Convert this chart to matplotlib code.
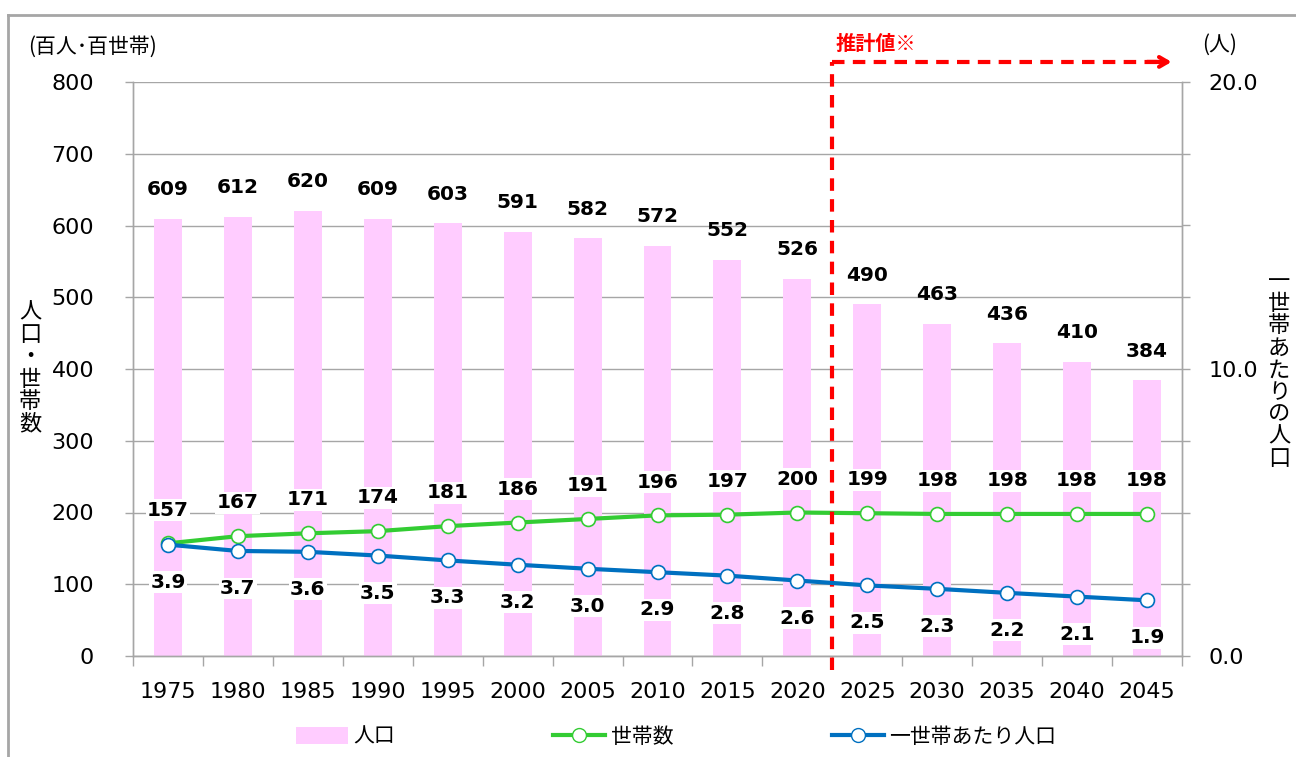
import numpy as np
import matplotlib
matplotlib.use("Agg")
import matplotlib.pyplot as plt
import matplotlib.transforms as mtransforms
from matplotlib.lines import Line2D
from matplotlib.patches import Patch

plt.rcParams['font.family'] = ['DejaVu Sans', 'Noto Sans CJK JP']
JP = ['Noto Sans CJK JP', 'DejaVu Sans']

# data
years = [1975, 1980, 1985, 1990, 1995, 2000, 2005, 2010, 2015, 2020,
         2025, 2030, 2035, 2040, 2045]
population = [609, 612, 620, 609, 603, 591, 582, 572, 552, 526, 490, 463, 436, 410, 384]
households = [157, 167, 171, 174, 181, 186, 191, 196, 197, 200, 199, 198, 198, 198, 198]
per_household = [3.88, 3.66, 3.63, 3.50, 3.33, 3.18, 3.04, 2.92, 2.80, 2.63,
                 2.46, 2.34, 2.20, 2.07, 1.94]
estimate_start = 2025

legend_labels = ['人口', '世帯数', '一世帯あたり人口']

PINK = '#FFCCFF'
GREEN = '#33CC33'
BLUE = '#0070C0'
GRAY = '#A6A6A6'

fig = plt.figure(figsize=(12.96, 7.57), dpi=100)
ax = fig.add_axes([133 / 1296, 1 - 656 / 757, (1182 - 133) / 1296, (656 - 82) / 757])
ax2 = ax.twinx()

x = np.arange(len(years))

# bars + household line on left axis
ax.bar(x, population, width=0.4, color=PINK, zorder=2)
ax.plot(x, households, color=GREEN, lw=3, marker='o', ms=10,
        mfc='white', mec=GREEN, mew=1.2, zorder=3)

# persons per household on right axis
ax2.plot(x, per_household, color=BLUE, lw=3, marker='o', ms=10,
         mfc='white', mec=BLUE, mew=1.2, zorder=3)

label_kw = dict(textcoords='offset points', ha='center', va='center',
                fontsize=14.5, fontweight='bold', zorder=5)
for xi, v in zip(x, population):
    ax.annotate(str(v), (xi, v), xytext=(0, 21), **label_kw)
for xi, v in zip(x, households):
    ax.annotate(str(v), (xi, v), xytext=(0, 24),
                bbox=dict(fc='white', ec='none', pad=1), **label_kw)
for xi, v in zip(x, per_household):
    ax2.annotate(f"{v:.1f}", (xi, v), xytext=(0, -27),
                 bbox=dict(fc='white', ec='none', pad=1), **label_kw)

# axes
ax.set_xlim(-0.5, len(years) - 0.5)
ax.set_ylim(0, 800)
ax.set_yticks(np.arange(0, 801, 100))
ax2.set_ylim(0, 20)
ax2.set_yticks([0, 10, 20])
ax2.set_yticks(np.arange(0, 20.1, 2.5), minor=True)
ax2.set_yticklabels(['0.0', '10.0', '20.0'])

ax.set_axisbelow(True)
ax.grid(axis='y', color=GRAY, lw=1)

ax.set_xticks(np.arange(-0.5, len(years), 1))
ax.set_xticklabels([])
ax.set_xticks(x, minor=True)
ax.set_xticklabels([str(y) for y in years], minor=True)
ax.tick_params(axis='x', which='major', length=7, color=GRAY, width=1)
ax.tick_params(axis='x', which='minor', length=0, pad=19, labelsize=16)
ax.tick_params(axis='y', length=6, color=GRAY, width=1, pad=22, labelsize=16)
ax2.tick_params(axis='y', which='major', length=6, color=GRAY, width=1, pad=13, labelsize=16)
ax2.tick_params(axis='y', which='minor', length=6, color=GRAY, width=1)

for a in (ax, ax2):
    for s in a.spines.values():
        s.set_color(GRAY)
        s.set_linewidth(1)
ax.spines['top'].set_visible(False)
ax2.spines['top'].set_visible(False)

# estimate marker (between 2020 and 2025)
xe = years.index(estimate_start) - 0.5
trans = mtransforms.blended_transform_factory(ax.transData, ax.transAxes)
x_arrow = len(years) - 0.7
ax.plot([xe, xe], [-0.025, 1.035], transform=trans, color='red', lw=3,
        ls=(0, (3, 2)), clip_on=False, zorder=6)
ax.plot([xe, x_arrow], [1.035, 1.035], transform=trans, color='red', lw=3,
        ls=(0, (3, 2)), clip_on=False, zorder=6)
ax.annotate('', xy=(x_arrow + 0.05, 1.035), xytext=(x_arrow - 0.3, 1.035),
            xycoords=trans, textcoords=trans,
            arrowprops=dict(arrowstyle='->,head_length=0.6,head_width=0.35',
                            color='red', lw=3, shrinkA=0, shrinkB=0))
ax.text(xe + 0.05, 1.067, '推計値※', transform=trans, color='red',
        fontsize=14.5, fontweight='bold', family=JP, ha='left', va='center')

# axis titles
fig.text(28 / 1296, 1 - 47 / 757, '(百人･百世帯)', fontsize=15, family=JP,
         ha='left', va='center')
fig.text(1202 / 1296, 1 - 45 / 757, '(人)', fontsize=15, family=JP,
         ha='left', va='center')
fig.text(30 / 1296, 1 - 368 / 757, '\n'.join('人口・世帯数'), fontsize=16,
         family=JP, ha='center', va='center', linespacing=0.97)
fig.text(1279 / 1296, 1 - 370 / 757, '\n'.join('一世帯あたりの人口'), fontsize=16,
         family=JP, ha='center', va='center', linespacing=0.95)

# outer frame of the original image
fig.add_artist(Line2D([8 / 1296, 8 / 1296], [0, 1 - 15 / 757], color=GRAY, lw=2))
fig.add_artist(Line2D([8 / 1296, 1], [1 - 15 / 757, 1 - 15 / 757], color=GRAY, lw=2))

# legend
handles = [
    Patch(fc=PINK, ec='none'),
    Line2D([], [], color=GREEN, lw=3, marker='o', ms=10, mfc='white', mec=GREEN),
    Line2D([], [], color=BLUE, lw=3, marker='o', ms=10, mfc='white', mec=BLUE),
]
fig.legend(handles, legend_labels, loc='center', bbox_to_anchor=(676 / 1296, 1 - 737 / 757),
           ncol=3, frameon=False, handlelength=2.5, handleheight=0.9, handletextpad=0.25,
           columnspacing=7.6, prop=dict(family=JP, size=15))

fig.savefig('out.png', dpi=100)
